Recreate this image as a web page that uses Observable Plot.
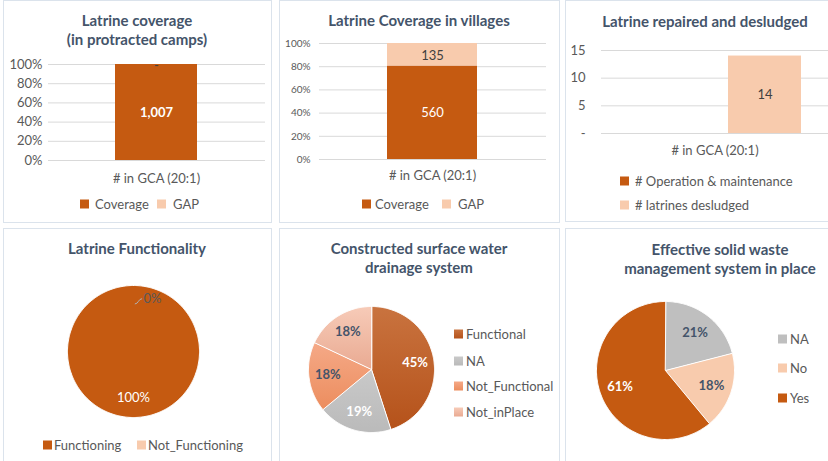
<!DOCTYPE html>
<html><head><meta charset="utf-8">
<script src="https://cdn.jsdelivr.net/npm/d3@7"></script>
<script src="https://cdn.jsdelivr.net/npm/@observablehq/plot@0.6"></script>
<style>
body{margin:0;background:#fff;font-family:Lato,sans-serif;}
#root{position:relative;width:828px;height:461px;overflow:hidden;background:#fff;}
.box{position:absolute;border:1px solid #dbe3ec;box-sizing:border-box;}
.plot{position:absolute;}
.title{position:absolute;color:#44546a;font-weight:bold;font-size:15px;text-align:center;line-height:19px;white-space:nowrap;transform:translate(-50%,-50%);}
.leg{position:absolute;font-size:13px;color:#595959;white-space:nowrap;line-height:14px;transform:translateY(-50%);}
.sw{position:absolute;width:9px;height:9px;transform:translateY(-50%);}
</style></head><body><div id="root"></div>
<svg width="0" height="0" style="position:absolute">
  <defs>
    <linearGradient id="gFun" x1="0" y1="0" x2="0" y2="1"><stop offset="0" stop-color="#c9733f"/><stop offset="1" stop-color="#b5521a"/></linearGradient>
    <linearGradient id="gNA" x1="0" y1="0" x2="0" y2="1"><stop offset="0" stop-color="#c9c9c9"/><stop offset="1" stop-color="#bababa"/></linearGradient>
    <linearGradient id="gNF" x1="0" y1="0" x2="0" y2="1"><stop offset="0" stop-color="#f5a987"/><stop offset="1" stop-color="#ec8d5e"/></linearGradient>
    <linearGradient id="gNP" x1="0" y1="0" x2="0" y2="1"><stop offset="0" stop-color="#f7cbb8"/><stop offset="1" stop-color="#e9aa92"/></linearGradient>
  </defs>
</svg>
<script>
// ---------- data ----------
const barCategory = "# in GCA (20:1)";
const coverageSeries = ["Coverage", "GAP"];
const campValues = [1007, 0];
const villageValues = [560, 135];
const repairSeries = ["# Operation & maintenance", "# latrines desludged"];
const repairValues = [0, 14];
const functionalityLabels = ["Functioning", "Not_Functioning"];
const functionalityValues = [100, 0];
const drainageLabels = ["Functional", "NA", "Not_Functional", "Not_inPlace"];
const drainageValues = [45, 19, 18, 18];
const wasteLabels = ["NA", "No", "Yes"];
const wasteValues = [21, 18, 61];
const percentTicks = [0, 0.2, 0.4, 0.6, 0.8, 1];
const repairTicks = [0, 5, 10, 15];

// ---------- styles ----------
const ORANGE = "#c55a11", PEACH = "#f8cbad", DARK = "#44546a", GREY = "#595959";
const root = document.getElementById("root");
const fmtNum = v => v === 0 ? "-" : d3.format(",")(v);
const baseStyle = {fontFamily: "Lato, sans-serif", fontSize: "13px", color: GREY, background: "transparent", overflow: "visible"};

function box(l, t, w, h) {
  const d = document.createElement("div"); d.className = "box";
  Object.assign(d.style, {left: l + "px", top: t + "px", width: w + "px", height: h + "px"});
  root.appendChild(d);
}
function place(svg, l, t) {
  svg.classList.add("plot"); svg.style.left = l + "px"; svg.style.top = t + "px";
  root.appendChild(svg);
}
function title(text, cx, cy, size) {
  const d = document.createElement("div"); d.className = "title"; d.innerHTML = text;
  d.style.left = cx + "px"; d.style.top = cy + "px";
  if (size) d.style.fontSize = size + "px";
  root.appendChild(d);
}
function legend(label, color, sx, tx, cy) {
  const s = document.createElement("div"); s.className = "sw";
  s.style.left = sx + "px"; s.style.top = cy + "px"; s.style.background = color;
  root.appendChild(s);
  const t = document.createElement("div"); t.className = "leg"; t.textContent = label;
  t.style.left = tx + "px"; t.style.top = cy + "px";
  root.appendChild(t);
}

// ---------- panel boxes ----------
box(3, 0, 269, 223); box(279, 0, 281, 223); box(565, 0, 270, 222);
box(3, 228, 269, 240); box(279, 228, 281, 240); box(565, 228, 270, 240);

// ---------- stacked percent bar ----------
function percentBar(values, o) {
  const rows = coverageSeries.map((s, i) => ({cat: barCategory, series: s, value: values[i]}));
  const st = (extra) => Plot.stackY({offset: "normalize", x: "cat", y: "value", ...extra});
  return Plot.plot({
    width: o.width, height: o.height,
    marginLeft: o.ml, marginRight: o.mr, marginTop: o.mt, marginBottom: o.mb,
    style: baseStyle,
    x: {domain: [barCategory], padding: o.pad},
    y: {domain: [0, 1]},
    color: {domain: coverageSeries, range: [ORANGE, PEACH]},
    marks: [
      Plot.gridY(percentTicks, {stroke: "#d9d9d9", strokeOpacity: 1}),
      Plot.axisY(percentTicks, {tickSize: 0, tickPadding: o.tp, tickFormat: d3.format(".0%"), label: null, fontSize: o.tickFont}),
      Plot.axisX({tickSize: 0, tickPadding: o.xp, label: null, fontSize: 13}),
      Plot.barY(rows, st({fill: "series"})),
      Plot.text(rows, st({text: d => d.series === "Coverage" ? fmtNum(d.value) : null, fill: "white", fontWeight: o.bold ? "bold" : "normal", fontSize: 13})),
      Plot.text(rows, st({text: d => d.series === "GAP" ? fmtNum(d.value) : null, fill: "#404040", fontSize: 13, dy: 1}))
    ]
  });
}

// Panel 1
place(percentBar(campValues, {width: 269, height: 223, ml: 45, mr: 7, mt: 64, mb: 63, pad: 0.447, tp: 6, xp: 13, tickFont: 13, bold: true}), 3, 0);
title("Latrine coverage<br>(in protracted camps)", 137, 30);
legend("Coverage", ORANGE, 80, 95, 204);
legend("GAP", PEACH, 157, 173, 204);

// Panel 2
place(percentBar(villageValues, {width: 281, height: 223, ml: 40, mr: 14, mt: 43, mb: 64, pad: 0.43, tp: 9, xp: 11, tickFont: 10, bold: false}), 279, 0);
title("Latrine Coverage in villages", 419, 20);
legend("Coverage", ORANGE, 362, 375, 204);
legend("GAP", PEACH, 442, 458, 204);

// Panel 3
{
  const rows = repairSeries.map((s, i) => ({cat: barCategory, series: s, value: repairValues[i]}));
  place(Plot.plot({
    width: 270, height: 222, marginLeft: 36, marginRight: 7, marginTop: 50, marginBottom: 89,
    style: baseStyle,
    fx: {domain: [barCategory], padding: 0},
    x: {domain: repairSeries, padding: 0.27, axis: null},
    y: {domain: [0, 15]},
    color: {domain: repairSeries, range: [ORANGE, PEACH]},
    marks: [
      Plot.gridY(repairTicks, {stroke: "#d9d9d9", strokeOpacity: 1}),
      Plot.axisY(repairTicks, {tickSize: 0, tickPadding: 16, tickFormat: d => d === 0 ? "-" : d, label: null, fontSize: 13}),
      Plot.axisFx({anchor: "bottom", tickSize: 0, tickPadding: 12, label: null, fontSize: 13}),
      Plot.barY(rows, {fx: "cat", x: "series", y: "value", fill: "series"}),
      Plot.text(rows, Plot.stackY({fx: "cat", x: "series", y: "value", text: d => d.value > 0 ? String(d.value) : null, fill: "#404040", fontSize: 13}))
    ]
  }), 565, 0);
  title("Latrine repaired and desludged", 705, 21);
  legend(repairSeries[0], ORANGE, 620, 635, 181);
  legend(repairSeries[1], PEACH, 620, 635, 205);
}

// ---------- pies ----------
function pieData(labels, values, labelR) {
  const total = d3.sum(values); let acc = 0;
  const pts = [], labs = [];
  values.forEach((v, i) => {
    const a0 = acc / total * 2 * Math.PI; acc += v; const a1 = acc / total * 2 * Math.PI;
    const mid = (a0 + a1) / 2;
    const r = v === 0 ? 0.8 : labelR;
    labs.push({cat: labels[i], value: v, zero: v === 0, x: r * Math.sin(mid % (2 * Math.PI)), y: r * Math.cos(mid % (2 * Math.PI)), text: Math.round(v / total * 100) + "%"});
    if (v <= 0) return;
    if (v < total) pts.push({cat: labels[i], x: 0, y: 0});
    const n = Math.max(2, Math.ceil((a1 - a0) / (Math.PI / 180)));
    for (let k = 0; k <= n; k++) {
      const a = a0 + (a1 - a0) * k / n;
      pts.push({cat: labels[i], x: Math.sin(a), y: Math.cos(a)});
    }
  });
  return {pts, labs};
}
function pie(labels, values, colors, textColors, o) {
  const {pts, labs} = pieData(labels, values, 0.7);
  const tc = new Map(labels.map((l, i) => [l, textColors[i]]));
  return Plot.plot({
    width: o.width, height: o.height,
    marginLeft: o.ml, marginRight: o.mr, marginTop: o.mt, marginBottom: o.mb,
    style: baseStyle,
    x: {domain: [-1, 1], axis: null},
    y: {domain: [-1, 1], axis: null},
    color: {domain: labels, range: colors},
    marks: [
      Plot.line(pts, {x: "x", y: "y", z: "cat", fill: "cat", stroke: "white", strokeWidth: 1, curve: "linear-closed"}),
      ...labels.map(l => Plot.text(labs.filter(d => d.cat === l && !d.zero), {x: "x", y: "y", text: "text", fill: tc.get(l), fontWeight: o.bold ? "bold" : "normal", fontSize: 13})),
      Plot.link(labs.filter(d => d.zero), {x1: d => d.x + 0.02, y1: d => d.y * 0.9, x2: d => d.x + 0.13, y2: "y", stroke: "#b0b0b0", strokeWidth: 1, curve: "bump-x"}),
      Plot.text(labs.filter(d => d.zero), {x: "x", y: "y", text: "text", fill: GREY, textAnchor: "start", dx: 10, fontSize: 13})
    ]
  });
}

// Panel 4
place(pie(functionalityLabels, functionalityValues, [ORANGE, PEACH], ["white", GREY],
  {width: 269, height: 233, ml: 64, mr: 73, mt: 57, mb: 44, bold: false}), 3, 228);
title("Latrine Functionality", 137, 248);
legend("Functioning", ORANGE, 43, 54, 445);
legend("Not_Functioning", PEACH, 137, 148, 445);

// Panel 5
place(pie(drainageLabels, drainageValues, ["url(#gFun)", "url(#gNA)", "url(#gNF)", "url(#gNP)"], ["white", "white", DARK, DARK],
  {width: 281, height: 233, ml: 29, mr: 126, mt: 78, mb: 29, bold: true}), 279, 228);
title("Constructed surface water<br>drainage system", 419, 258);
legend("Functional", "linear-gradient(#c9733f,#b5521a)", 454, 466, 334);
legend("NA", "linear-gradient(#c9c9c9,#bababa)", 454, 466, 361);
legend("Not_Functional", "linear-gradient(#f5a987,#ec8d5e)", 454, 466, 386);
legend("Not_inPlace", "linear-gradient(#f7cbb8,#e9aa92)", 454, 466, 412);

// Panel 6
place(pie(wasteLabels, wasteValues, ["#bfbfbf", PEACH, ORANGE], [DARK, DARK, "white"],
  {width: 270, height: 233, ml: 31, mr: 101, mt: 73, mb: 22, bold: true}), 565, 228);
title("Effective solid waste<br>management system in place", 720, 259);
legend("NA", "#bfbfbf", 778, 790, 339);
legend("No", PEACH, 778, 790, 368);
legend("Yes", ORANGE, 778, 790, 398);
</script></body></html>
